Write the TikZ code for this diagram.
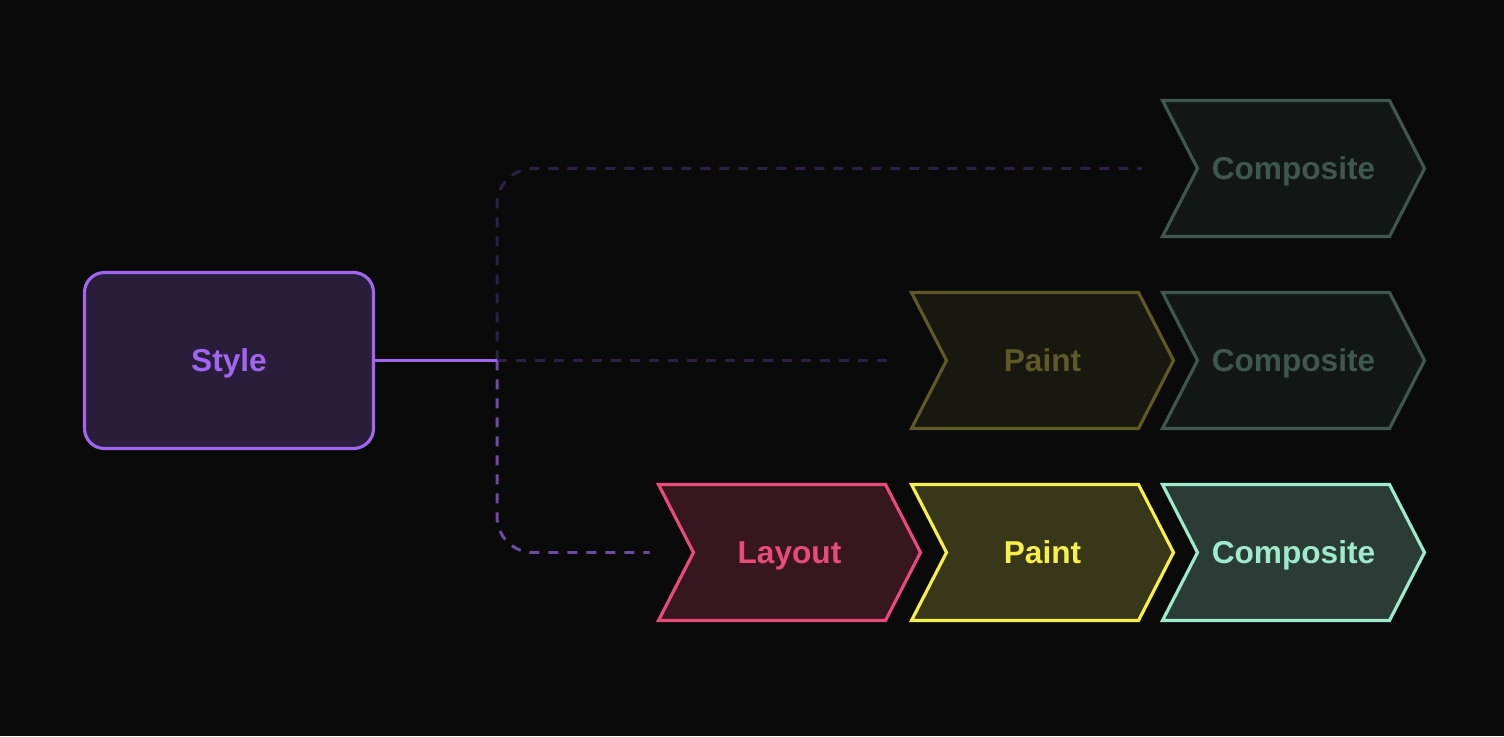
\documentclass[tikz,border=0pt]{standalone}
\usepackage{fontspec}
\setmainfont{Liberation Sans}
\definecolor{pagebg}{HTML}{0A0A0A}
\definecolor{styleline}{HTML}{A066EF}
\definecolor{stylefill}{HTML}{291D3B}
\definecolor{linkdim}{HTML}{2B2142}
\definecolor{linkbright}{HTML}{6B4BA6}
\definecolor{layoutline}{HTML}{E94A7C}
\definecolor{layoutfill}{HTML}{37171F}
\definecolor{paintline}{HTML}{F7EF4C}
\definecolor{paintfill}{HTML}{383719}
\definecolor{compline}{HTML}{9FE9CD}
\definecolor{compfill}{HTML}{2B3B35}
\definecolor{paintdim}{HTML}{5F5927}
\definecolor{paintdimfill}{HTML}{181710}
\definecolor{compdim}{HTML}{3F574F}
\definecolor{compdimfill}{HTML}{121614}
\usetikzlibrary{calc}

% one step of the pipeline: name, centre, line colour, fill colour, text
\newcommand{\chevron}[5]{%
  \coordinate (#1-c) at (#2);
  \filldraw[chevbox, draw=#3, fill=#4] ($(#1-c)+(-1.31,0.68)$) -- ++(2.27,0) -- ++(0.35,-0.68)
    -- ++(-0.35,-0.68) -- ++(-2.27,0) -- ++(0.35,0.68) -- cycle;
  \coordinate (#1-in) at ($(#1-c)+(-1.31,0)$);
  \node[chevtext, text=#3] (#1) at (#1-c) {#5};
}

\begin{document}
\begin{tikzpicture}[font=\fontsize{9}{11}\selectfont\bfseries,
  chevbox/.style={line width=0.9pt, line join=miter},
  chevtext/.style={inner sep=0pt, text height=6.4pt, text depth=0pt},
  stylebox/.style={draw=styleline, fill=stylefill, text=styleline, line width=0.9pt,
    rounded corners=0.2cm, minimum width=2.89cm, minimum height=1.76cm,
    text height=6.4pt, text depth=0pt},
  dimlink/.style={draw=linkdim, line width=0.85pt, dash pattern=on 0.1cm off 0.09cm, rounded corners=0.36cm},
  brightlink/.style={draw=linkbright, line width=0.85pt, dash pattern=on 0.1cm off 0.09cm, rounded corners=0.36cm},
  solidlink/.style={draw=styleline, line width=0.9pt}]
  % Page
  \fill[pagebg] (0,0) rectangle (15.04,7.36);

  % Source
  \node[stylebox] (style) at (2.29,3.755) {Style};
  \coordinate (hub) at (4.97,3.755);

  % Pipelines
  \chevron{comp1}{12.935,5.675}{compdim}{compdimfill}{Composite}
  \chevron{paint2}{10.425,3.755}{paintdim}{paintdimfill}{Paint}
  \chevron{comp2}{12.935,3.755}{compdim}{compdimfill}{Composite}
  \chevron{layout}{7.895,1.835}{layoutline}{layoutfill}{Layout}
  \chevron{paint3}{10.425,1.835}{paintline}{paintfill}{Paint}
  \chevron{comp3}{12.935,1.835}{compline}{compfill}{Composite}

  % Links
  \draw[dimlink] (hub) |- ([xshift=-0.21cm]comp1-in);
  \draw[dimlink] (hub) -- ([xshift=-0.22cm]paint2-in);
  \draw[brightlink] (hub) |- ([xshift=-0.09cm]layout-in);
  \draw[solidlink] (style.east) -- (hub);
\end{tikzpicture}
\end{document}
